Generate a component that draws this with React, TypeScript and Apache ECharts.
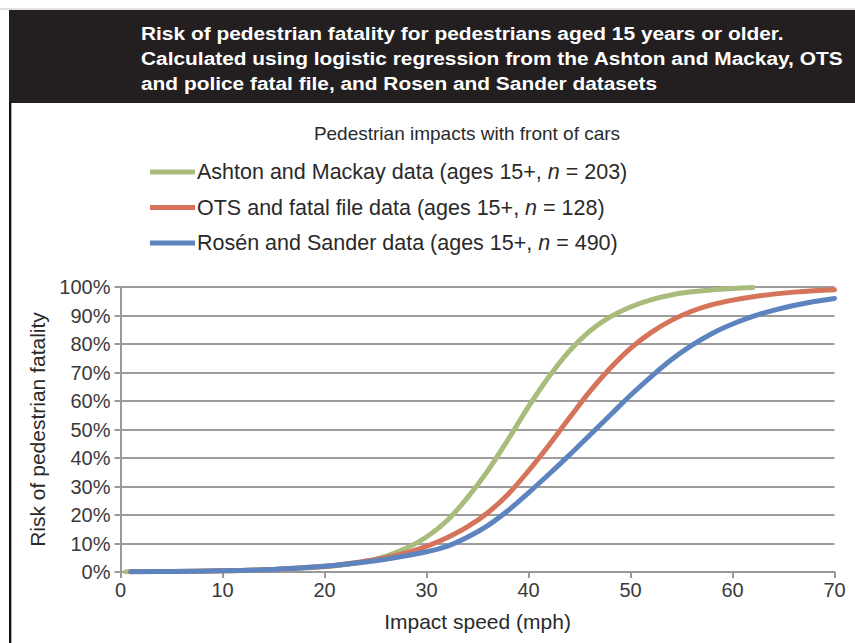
import React, { useEffect, useRef } from "react";
import * as echarts from "echarts";

const headerLines = [
  "Risk of pedestrian fatality for pedestrians aged 15 years or older.",
  "Calculated using logistic regression from the Ashton and Mackay, OTS",
  "and police fatal file, and Rosen and Sander datasets",
];
const subtitle = "Pedestrian impacts with front of cars";
const seriesNames = [
  "Ashton and Mackay data (ages 15+, n = 203)",
  "OTS and fatal file data (ages 15+, n = 128)",
  "Rosén and Sander data (ages 15+, n = 490)",
];
const seriesColors = ["#a9bc7c", "#d5745a", "#5d84bf"];

const ashtonSpeed = [0.5, 5, 10, 15, 20, 22, 24, 26, 28, 30, 32, 34, 36, 38, 40, 42, 44, 46, 48, 50, 52, 54, 56, 58, 60, 62];
const ashtonRisk = [0.1, 0.2, 0.4, 0.9, 1.8, 2.6, 3.7, 5.5, 8.3, 12.3, 18, 26, 35.5, 46.5, 58, 68.5, 77.5, 84.5, 89.5, 93, 95.5, 97.2, 98.3, 99, 99.5, 99.8];

const otsSpeed = [1, 5, 10, 15, 20, 22, 24, 26, 28, 30, 32, 34, 36, 38, 40, 42, 44, 46, 48, 50, 52, 54, 56, 58, 60, 62, 64, 66, 68, 70];
const otsRisk = [0.1, 0.2, 0.4, 0.9, 2.0, 2.8, 3.8, 5.0, 6.7, 9.0, 12, 15.8, 20.8, 27.3, 35.5, 44.5, 54, 63.3, 71.5, 78.5, 84, 88.3, 91.5, 93.8, 95.4, 96.6, 97.5, 98.2, 98.7, 99];

const rosenSpeed = [1, 5, 10, 15, 20, 22, 24, 26, 28, 30, 32, 34, 36, 38, 40, 42, 44, 46, 48, 50, 52, 54, 56, 58, 60, 62, 64, 66, 68, 70];
const rosenRisk = [0.1, 0.2, 0.4, 0.9, 2.0, 2.7, 3.5, 4.5, 5.7, 7.1, 9.0, 12.2, 16.3, 21.6, 27.8, 34.3, 41, 48, 55, 62, 68.5, 74.5, 79.5, 83.7, 87, 89.7, 91.8, 93.5, 94.9, 96];

const xTicks = { min: 0, max: 70, interval: 10 };
const yTicks = { min: 0, max: 100, interval: 10 };

const pair = (xs: number[], ys: number[]) => xs.map((x, i) => [x, ys[i]]);

export default function App() {
  const ref = useRef<HTMLDivElement>(null);
  useEffect(() => {
    if (!ref.current) return;
    const chart = echarts.init(ref.current, undefined, { renderer: "svg" });
    const font = "Liberation Sans, Arial, sans-serif";
    const textColor = "#3a3a3a";
    const datasets = [pair(ashtonSpeed, ashtonRisk), pair(otsSpeed, otsRisk), pair(rosenSpeed, rosenRisk)];
    chart.setOption({
      animation: false,
      backgroundColor: "#ffffff",
      textStyle: { fontFamily: font },
      graphic: [
        { type: "rect", shape: { x: 9, y: 10, width: 846, height: 93 }, style: { fill: "#231f20" }, z: 0 },
        { type: "line", shape: { x1: 0, y1: 9, x2: 855, y2: 9 }, style: { stroke: "#c4c4c4", lineWidth: 1 } },
        { type: "line", shape: { x1: 10, y1: 103, x2: 10, y2: 643 }, style: { stroke: "#111111", lineWidth: 2 } },
        { type: "line", shape: { x1: 11.5, y1: 103, x2: 11.5, y2: 643 }, style: { stroke: "#b0b0b0", lineWidth: 1 } },
        ...headerLines.map((t, i) => ({
          type: "text",
          x: 141,
          y: 34 + i * 25,
          scaleX: 1.16,
          style: {
            text: t,
            fill: "#ffffff",
            font: `bold 18px ${font}`,
            textVerticalAlign: "middle",
          },
        })),
        {
          type: "text",
          x: 467,
          y: 133,
          style: {
            text: subtitle,
            fill: "#2a2a2a",
            font: `19px ${font}`,
            textAlign: "center",
            textVerticalAlign: "middle",
          },
        },
      ],
      legend: {
        orient: "vertical",
        left: 145,
        top: 156,
        itemWidth: 45,
        itemHeight: 5,
        itemGap: 13.5,
        icon: "rect",
        data: seriesNames,
        formatter: (name: string) => name.replace(", n = ", ", {i|n} = "),
        textStyle: {
          fontSize: 21.5,
          lineHeight: 22,
          color: "#2a2a2a",
          padding: [0, 0, 0, -3],
          rich: { i: { fontSize: 21.5, lineHeight: 22, fontStyle: "italic", color: "#2a2a2a" } },
        },
      },
      grid: { left: 120.5, top: 287, width: 714, height: 285, containLabel: false },
      xAxis: {
        type: "value",
        min: xTicks.min,
        max: xTicks.max,
        interval: xTicks.interval,
        name: "Impact speed (mph)",
        nameLocation: "middle",
        nameGap: 39,
        nameTextStyle: { fontSize: 21, color: "#2a2a2a" },
        axisLine: { show: true, lineStyle: { color: "#999999", width: 2 } },
        axisTick: { show: true, length: 6, lineStyle: { color: "#999999", width: 2 } },
        axisLabel: { fontSize: 20, color: textColor, margin: 8 },
        splitLine: { show: false },
      },
      yAxis: {
        type: "value",
        min: yTicks.min,
        max: yTicks.max,
        interval: yTicks.interval,
        name: "Risk of pedestrian fatality",
        nameLocation: "middle",
        nameGap: 72,
        nameTextStyle: { fontSize: 21, color: "#2a2a2a" },
        axisLine: { show: true, lineStyle: { color: "#999999", width: 2 } },
        axisTick: { show: true, inside: false, length: 6, lineStyle: { color: "#999999", width: 2 } },
        axisLabel: { fontSize: 20, color: textColor, margin: 10, formatter: "{value}%" },
        splitLine: { show: true, lineStyle: { color: "#9c9c9c", width: 2 } },
      },
      series: seriesNames.map((name, i) => ({
        name,
        type: "line",
        data: datasets[i],
        smooth: 0.35,
        showSymbol: false,
        lineStyle: { width: 5, color: seriesColors[i], cap: "round", join: "round" },
        itemStyle: { color: seriesColors[i] },
      })),
    });
    return () => chart.dispose();
  }, []);
  return (
    <div
      ref={ref}
      style={{ position: "absolute", left: 0, top: 0, width: 855, height: 643, background: "#fff" }}
    />
  );
}
